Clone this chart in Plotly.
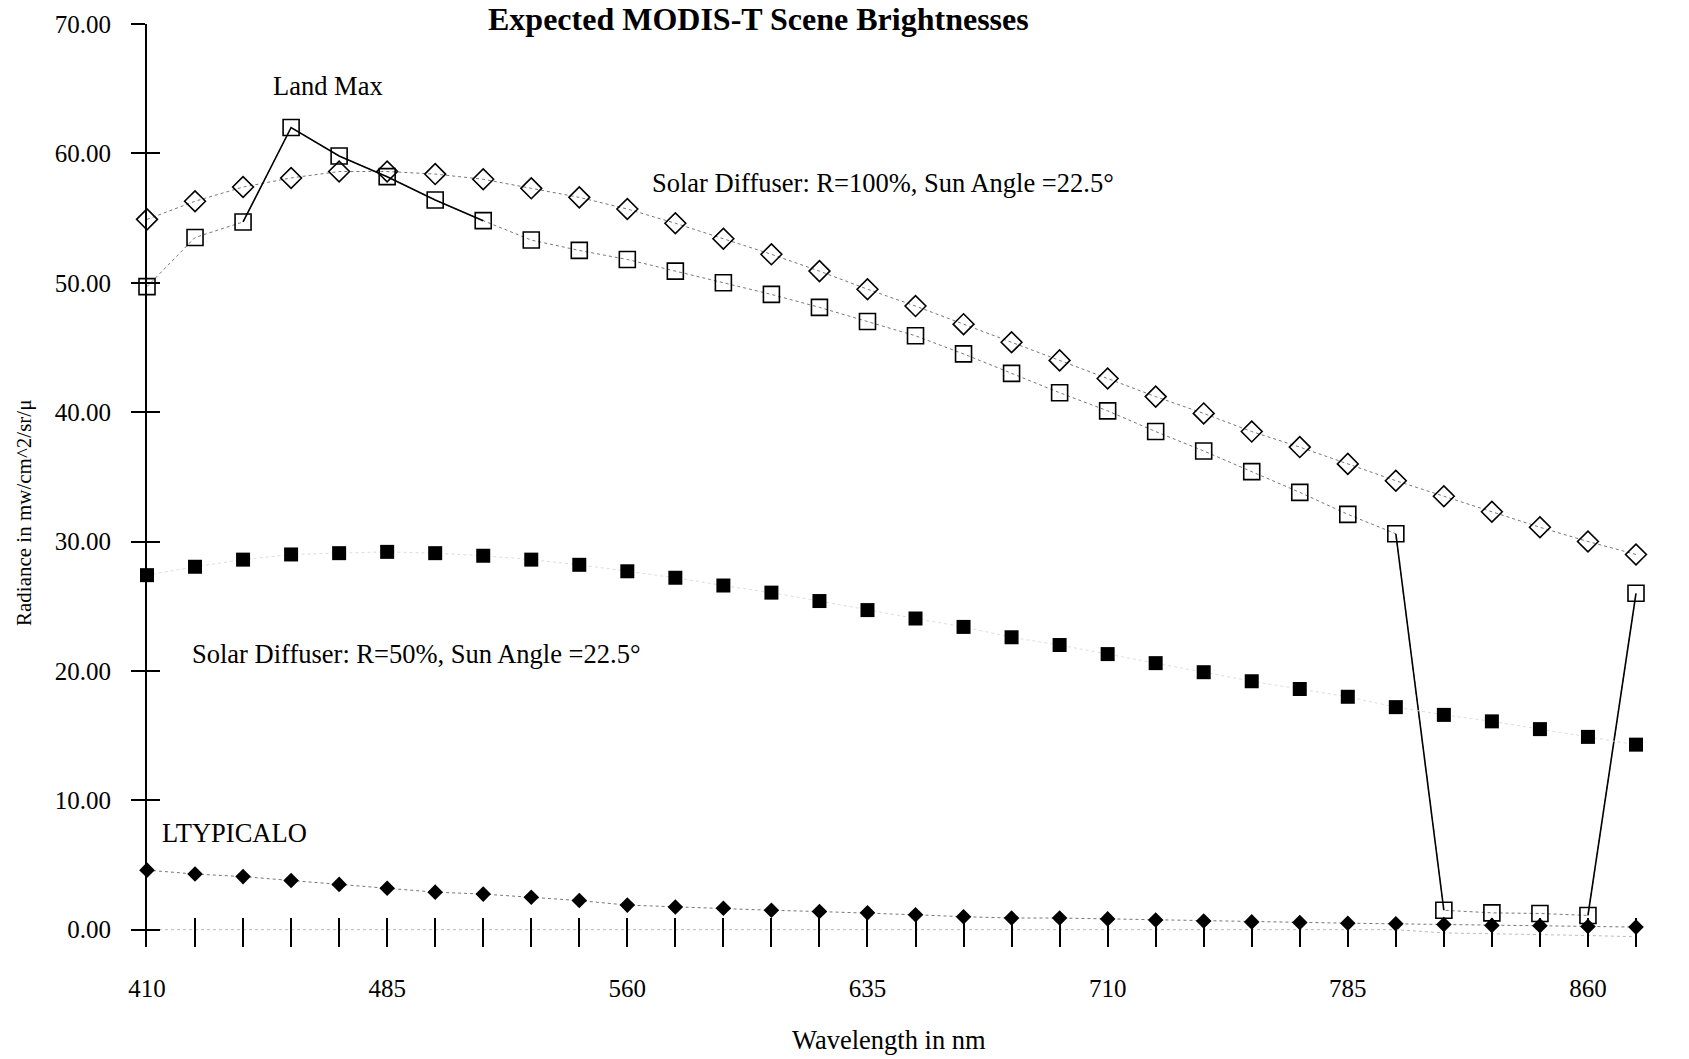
import plotly.graph_objects as go

# ---------------- data ----------------
WAVELENGTH = [410, 425, 440, 455, 470, 485, 500, 515, 530, 545, 560, 575, 590, 605, 620, 635,
              650, 665, 680, 695, 710, 725, 740, 755, 770, 785, 800, 815, 830, 845, 860, 875]

SOLAR_100 = [54.9, 56.3, 57.4, 58.1, 58.6, 58.6, 58.4, 58.0, 57.3, 56.6, 55.7, 54.6, 53.4, 52.2, 50.9, 49.5,
             48.2, 46.8, 45.4, 44.0, 42.6, 41.2, 39.9, 38.5, 37.3, 36.0, 34.7, 33.5, 32.3, 31.1, 30.0, 29.0]

LAND_MAX = [49.7, 53.5, 54.7, 62.0, 59.8, 58.2, 56.4, 54.8, 53.3, 52.5, 51.8, 50.9, 50.0, 49.1, 48.1, 47.0,
            45.9, 44.5, 43.0, 41.5, 40.1, 38.5, 37.0, 35.4, 33.8, 32.1, 30.6, 1.5, 1.3, 1.25, 1.1, 26.0]

SOLAR_50 = [27.4, 28.05, 28.6, 29.0, 29.1, 29.2, 29.1, 28.9, 28.6, 28.2, 27.7, 27.2, 26.6, 26.05, 25.4, 24.7,
            24.05, 23.4, 22.6, 22.0, 21.3, 20.6, 19.9, 19.2, 18.6, 18.0, 17.2, 16.6, 16.1, 15.5, 14.9, 14.3]

LTYPICALO = [4.6, 4.3, 4.1, 3.8, 3.5, 3.2, 2.9, 2.75, 2.5, 2.25, 1.9, 1.75, 1.65, 1.5, 1.4, 1.3,
             1.15, 1.0, 0.9, 0.9, 0.83, 0.75, 0.67, 0.6, 0.55, 0.5, 0.45, 0.4, 0.33, 0.3, 0.25, 0.2]

NEAR_ZERO = [0, 0, 0, 0, 0, 0, 0, 0, 0, 0, 0, 0, 0, 0, 0, 0,
             0, 0, 0, 0, 0, 0, 0, 0, 0, 0, 0, -0.25, -0.3, -0.35, -0.45, -0.55]

X_LABELED = ["410", "485", "560", "635", "710", "785", "860"]
Y_TICKS = [0, 10, 20, 30, 40, 50, 60, 70]
Y_TICK_LABELS = ["0.00", "10.00", "20.00", "30.00", "40.00", "50.00", "60.00", "70.00"]

# Land Max segments that print as solid lines (start, end wavelength)
LANDMAX_SOLID = [(440, 515), (800, 815), (860, 875)]

TITLE = "Expected MODIS-T Scene Brightnesses"
X_TITLE = "Wavelength in nm"
Y_TITLE = "Radiance in mw/cm^2/sr/\u03bc"

FONT = "Liberation Serif, Times New Roman, serif"

# ---------------- figure ----------------
fig = go.Figure()

fig.add_trace(go.Scatter(
    x=WAVELENGTH, y=NEAR_ZERO, mode="lines", yaxis="y2",
    line=dict(color="#bbbbbb", width=1, dash="dot"), hoverinfo="skip", cliponaxis=False))

fig.add_trace(go.Scatter(
    x=WAVELENGTH, y=SOLAR_100, mode="lines+markers", name="Solar Diffuser R=100%",
    line=dict(color="#777777", width=1, dash="dot"),
    marker=dict(symbol="diamond-open", size=16, color="black", line=dict(width=1.6, color="black")),
    cliponaxis=False))

fig.add_trace(go.Scatter(
    x=WAVELENGTH, y=LAND_MAX, mode="lines+markers", name="Land Max",
    line=dict(color="#777777", width=1, dash="dot"),
    marker=dict(symbol="square-open", size=16, color="black", line=dict(width=1.6, color="black")),
    cliponaxis=False))

sx, sy = [], []
for a, b in LANDMAX_SOLID:
    for w, v in zip(WAVELENGTH, LAND_MAX):
        if a <= w <= b:
            sx.append(w)
            sy.append(v)
    sx.append(None)
    sy.append(None)
fig.add_trace(go.Scatter(
    x=sx, y=sy, mode="lines", line=dict(color="black", width=1.6),
    connectgaps=False, hoverinfo="skip", cliponaxis=False))

fig.add_trace(go.Scatter(
    x=WAVELENGTH, y=SOLAR_50, mode="lines+markers", name="Solar Diffuser R=50%",
    line=dict(color="#dddddd", width=1, dash="dot"),
    marker=dict(symbol="square", size=14, color="black"),
    cliponaxis=False))

fig.add_trace(go.Scatter(
    x=WAVELENGTH, y=LTYPICALO, mode="lines+markers", name="LTYPICALO",
    line=dict(color="#777777", width=1, dash="dot"),
    marker=dict(symbol="diamond", size=12, color="black"),
    cliponaxis=False))

ticktext = [str(w) if str(w) in X_LABELED else "" for w in WAVELENGTH]

fig.update_layout(
    width=1689, height=1059,
    margin=dict(l=147, r=37, t=24, b=112),
    paper_bgcolor="white", plot_bgcolor="white",
    showlegend=False,
    font=dict(family=FONT, color="black"),
    title=dict(text="<b>" + TITLE + "</b>", x=0.449, xref="container", xanchor="center",
               y=1 - 19 / 1059, yref="container", yanchor="middle",
               font=dict(family=FONT, size=32, color="black")),
    xaxis=dict(range=[410, 880], showline=False, showgrid=False, zeroline=False,
               tickmode="array", tickvals=WAVELENGTH, ticktext=ticktext,
               ticks="inside", ticklen=29, tickwidth=2, tickcolor="black",
               tickfont=dict(family=FONT, size=25, color="black"),
               ticklabelstandoff=24),
    yaxis=dict(range=[-1.34, 70], showline=True, linecolor="black", linewidth=2,
               showgrid=False, zeroline=False,
               tickmode="array", tickvals=Y_TICKS, ticktext=Y_TICK_LABELS,
               ticks="outside", ticklen=14, tickwidth=1.5, tickcolor="black",
               tickfont=dict(family=FONT, size=25, color="black"),
               ticklabelstandoff=15),
    yaxis2=dict(range=[-1.34, 70], overlaying="y", anchor="x", side="left",
                showline=False, showgrid=False, zeroline=False,
                tickmode="array", tickvals=Y_TICKS, showticklabels=False,
                ticks="inside", ticklen=13, tickwidth=1.5, tickcolor="black"),
)

ann_font = dict(family=FONT, size=26.5, color="black")
fig.add_annotation(x=466.4, y=65.2, xref="x", yref="y", text="Land Max",
                   showarrow=False, xanchor="center", yanchor="middle", font=ann_font)
fig.add_annotation(x=567.0, y=57.7, xref="x", yref="y",
                   text="Solar Diffuser: R=100%, Sun Angle =22.5\u00b0",
                   showarrow=False, xanchor="left", yanchor="middle", font=ann_font)
fig.add_annotation(x=423.5, y=21.3, xref="x", yref="y",
                   text="Solar Diffuser: R=50%, Sun Angle =22.5\u00b0",
                   showarrow=False, xanchor="left", yanchor="middle", font=ann_font)
fig.add_annotation(x=414.2, y=7.5, xref="x", yref="y", text="LTYPICALO",
                   showarrow=False, xanchor="left", yanchor="middle", font=ann_font)

fig.add_annotation(x=(889 - 147) / 1505, y=(947 - 1040) / 923, xref="paper", yref="paper",
                   text=X_TITLE, showarrow=False, xanchor="center", yanchor="middle",
                   font=dict(family=FONT, size=26.5, color="black"))
fig.add_annotation(x=(24 - 147) / 1505, y=(947 - 513) / 923, xref="paper", yref="paper",
                   text=Y_TITLE, textangle=-90, showarrow=False, xanchor="center", yanchor="middle",
                   font=dict(family=FONT, size=21, color="black"))

fig.write_html("out.html")
